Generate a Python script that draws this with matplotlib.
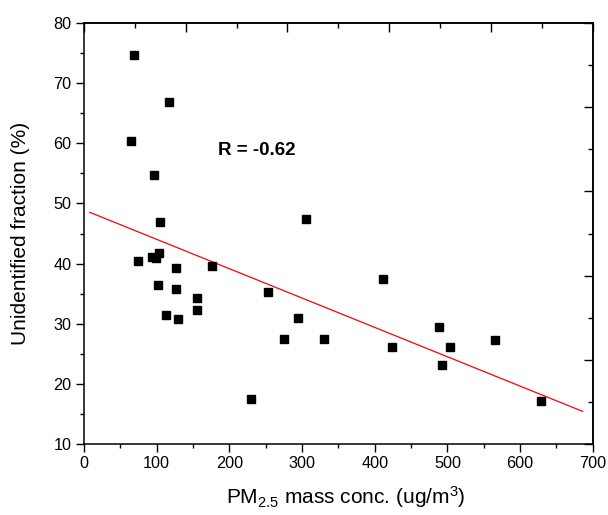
import numpy as np
import matplotlib
matplotlib.use("Agg")
import matplotlib.pyplot as plt
from matplotlib.ticker import MultipleLocator, NullFormatter

plt.rcParams['font.family'] = ['Liberation Sans', 'DejaVu Sans']
plt.rcParams['mathtext.fontset'] = 'custom'
plt.rcParams['mathtext.rm'] = 'Liberation Sans'
plt.rcParams['mathtext.it'] = 'Liberation Sans:italic'
plt.rcParams['mathtext.bf'] = 'Liberation Sans:bold'

# PM2.5 mass concentration (ug/m3) and unidentified fraction (%)
pm25 = [69, 117, 65, 97, 105, 306, 75, 94, 99, 103, 126, 176, 102, 126, 156,
        156, 113, 130, 253, 294, 275, 330, 230, 412, 424, 488, 503, 493, 566, 629]
unident = [74.7, 66.9, 60.4, 54.7, 47.0, 47.5, 40.5, 41.1, 40.9, 41.7, 39.2, 39.6,
           36.4, 35.7, 34.3, 32.3, 31.4, 30.8, 35.2, 31.0, 27.4, 27.4, 17.4, 37.4,
           26.2, 29.5, 26.2, 23.2, 27.3, 17.1]

# x range covered by the fitted line
fit_range = [8, 686]
r_text = "R = -0.62"

x = np.array(pm25)
y = np.array(unident)

fig = plt.figure(figsize=(6.08, 5.15), dpi=100)
ax = fig.add_axes([0.138, 0.138, 0.837, 0.817])

# linear fit
slope, intercept = np.polyfit(x, y, 1)
xl = np.array(fit_range)
ax.plot(xl, slope * xl + intercept, color='red', lw=0.9)

ax.plot(x, y, 's', color='black', ms=5.2, mec='black')

ax.text(184, 58.1, r_text, fontsize=13.5, fontweight='bold', va='baseline')

ax.set_xlim(0, 700)
ax.set_ylim(10, 80)
ax.xaxis.set_major_locator(MultipleLocator(100))
ax.xaxis.set_minor_locator(MultipleLocator(50))
ax.yaxis.set_major_locator(MultipleLocator(10))
ax.yaxis.set_minor_locator(MultipleLocator(5))
ax.tick_params(which='both', direction='out', top=False, right=False,
               labelsize=11.7, width=1)
ax.tick_params(which='major', length=6, pad=3)
ax.tick_params(which='minor', length=3)

for s in ax.spines.values():
    s.set_linewidth(1.1)

# top and right axes: ten divisions, no labels
top = ax.secondary_xaxis('top')
top.set_xticks(np.arange(0, 701, 140))
top.set_xticks(np.arange(70, 700, 140), minor=True)
top.xaxis.set_major_formatter(NullFormatter())
top.tick_params(which='both', direction='in', width=1)
top.tick_params(which='major', length=6.5)
top.tick_params(which='minor', length=3.5)
top.spines['top'].set_linewidth(1.1)

right = ax.secondary_yaxis('right')
right.set_yticks(np.arange(10, 81, 14))
right.set_yticks(np.arange(17, 80, 14), minor=True)
right.yaxis.set_major_formatter(NullFormatter())
right.tick_params(which='both', direction='in', width=1)
right.tick_params(which='major', length=6.5)
right.tick_params(which='minor', length=3.5)
right.spines['right'].set_linewidth(1.1)

ax.set_xlabel(r'PM$_{2.5}$ mass conc. (ug/m$^3$)', fontsize=15)
ax.set_ylabel('Unidentified fraction (%)', fontsize=15)
ax.xaxis.set_label_coords(0.515, -0.095)
ax.yaxis.set_label_coords(-0.106, 0.5)

fig.savefig('out.png', dpi=100)
